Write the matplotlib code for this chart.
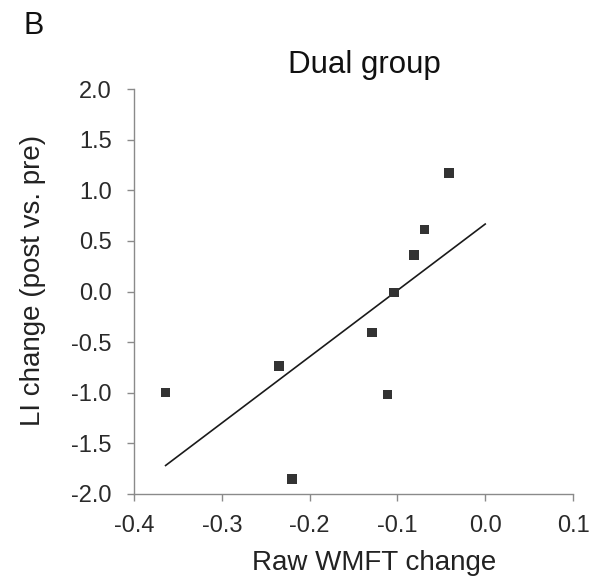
import numpy as np
import matplotlib
matplotlib.use("Agg")
import matplotlib.pyplot as plt

plt.rcParams['font.family'] = ['Liberation Sans', 'DejaVu Sans']

# Data
wmft_change = [-0.364, -0.235, -0.220, -0.129, -0.111, -0.104, -0.081, -0.069, -0.041]
li_change = [-1.00, -0.735, -1.85, -0.405, -1.02, -0.01, 0.36, 0.615, 1.17]
fit_end = 0.0

x_ticks = [-0.4, -0.3, -0.2, -0.1, 0.0, 0.1]
x_ticklabels = ['-0.4', '-0.3', '-0.2', '-0.1', '0.0', '0.1']
y_ticks = [-2.0, -1.5, -1.0, -0.5, 0.0, 0.5, 1.0, 1.5, 2.0]
y_ticklabels = ['-2.0', '-1.5', '-1.0', '-0.5', '0.0', '0.5', '1.0', '1.5', '2.0']

title = 'Dual group'
xlabel = 'Raw WMFT change'
ylabel = 'LI change (post vs. pre)'
panel = 'B'

x = np.array(wmft_change)
y = np.array(li_change)
slope, intercept = np.polyfit(x, y, 1)
xl = np.array([x.min(), fit_end])
yl = slope * xl + intercept

W, H = 598, 586
fig = plt.figure(figsize=(W / 100, H / 100), dpi=100)
left, right, bottom, top = 134, 573, 494, 89
ax = fig.add_axes([left / W, 1 - bottom / H, (right - left) / W, (bottom - top) / H])

ax.plot(xl, yl, color='#1a1a1a', lw=1.2, zorder=2)
ax.scatter(x, y, marker='s', s=46, color='#333333', edgecolors='none', zorder=3)

ax.set_xlim(-0.4, 0.1)
ax.set_ylim(-2.0, 2.0)
ax.set_xticks(x_ticks)
ax.set_xticklabels(x_ticklabels)
ax.set_yticks(y_ticks)
ax.set_yticklabels(y_ticklabels)

for s in ['top', 'right']:
    ax.spines[s].set_visible(False)
for s in ['left', 'bottom']:
    ax.spines[s].set_color('#8a8a8a')
    ax.spines[s].set_linewidth(1.0)
ax.tick_params(axis='both', colors='#8a8a8a', labelcolor='#2a2a2a', labelsize=17,
               length=5, width=1.0, direction='out')
ax.tick_params(axis='x', pad=10)
ax.tick_params(axis='y', pad=11)

fig.text(364 / W, 1 - 65 / H, title, ha='center', va='center', fontsize=22.5, color='#111111')
fig.text(374 / W, 1 - 563 / H, xlabel, ha='center', va='center', fontsize=20, color='#222222')
fig.text(33 / W, 1 - 280 / H, ylabel, ha='center', va='center', rotation=90, fontsize=20, color='#222222')
fig.text(24 / W, 1 - 26 / H, panel, ha='left', va='center', fontsize=22, color='#111111')

fig.savefig('out.png', dpi=100, facecolor='white')
